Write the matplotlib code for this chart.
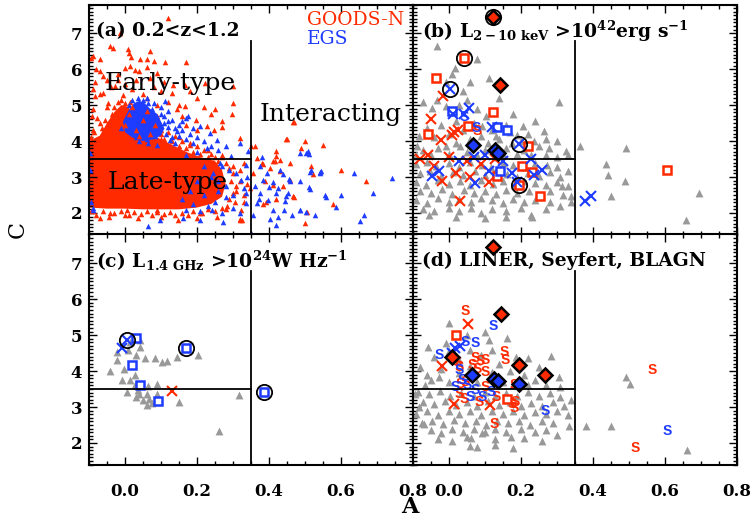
import numpy as np
import matplotlib
matplotlib.use("Agg")
import matplotlib.pyplot as plt
from matplotlib.ticker import MultipleLocator, NullFormatter

plt.rcParams['font.family'] = ['DejaVu Serif']
plt.rcParams['mathtext.fontset'] = 'dejavuserif'

RED = '#ff2a00'
BLUE = '#1e3cff'
GRAY = '#999999'

# ---------------- panel (a): full 0.2<z<1.2 sample ----------------
# outline of the saturated GOODS-N core where the markers merge
goods_core = [(-0.1, 2.15), (-0.1, 4.0), (-0.07, 4.15), (-0.05, 4.5), (-0.03, 4.8),
              (-0.01, 5.0), (0.01, 4.95), (0.03, 4.6), (0.06, 4.3), (0.09, 4.1),
              (0.13, 3.9), (0.17, 3.7), (0.21, 3.55), (0.25, 3.45), (0.27, 3.2),
              (0.28, 2.8), (0.27, 2.45), (0.24, 2.25), (0.2, 2.15), (0.15, 2.1),
              (0.1, 2.1), (0.05, 2.1), (0.0, 2.12), (-0.05, 2.12)]
# outline of the dense EGS clump above the late-type core
egs_core = [(0.0, 4.25), (-0.005, 4.55), (0.01, 4.85), (0.025, 5.05), (0.04, 5.12),
            (0.055, 5.05), (0.07, 4.9), (0.09, 4.75), (0.1, 4.55), (0.11, 4.35),
            (0.1, 4.15), (0.08, 4.05), (0.05, 4.0), (0.02, 4.1)]

goods_pts = [(0.120, 7.43), (-0.014, 7.01), (-0.042, 6.64), (-0.032, 6.59), (0.009, 6.55),
             (0.012, 6.44), (0.018, 6.34), (-0.088, 6.36), (-0.069, 6.27), (0.069, 6.50),
             (0.060, 6.27), (0.081, 6.22), (0.042, 6.27), (0.111, 6.19), (0.169, 6.19),
             (0.014, 6.08), (0.000, 6.04), (0.028, 5.99), (-0.019, 5.88), (-0.051, 5.71),
             (-0.083, 5.64), (-0.028, 5.53), (0.134, 5.57), (0.167, 5.57), (0.222, 5.62),
             (0.301, 5.54), (-0.060, 5.34), (-0.083, 5.25), (-0.005, 5.29), (-0.046, 5.06),
             (0.301, 5.06), (0.297, 4.74), (0.468, 4.54), (0.247, 4.30), (0.227, 4.41),
             (0.269, 4.55), (-0.088, 4.88), (-0.093, 4.69), (-0.079, 4.64), (0.199, 4.60),
             (0.319, 4.09), (0.144, 4.88), (0.167, 4.97), (0.088, 4.69), (0.02, 5.45),
             (0.05, 5.3), (0.07, 5.75), (0.1, 5.4), (-0.07, 5.95), (0.03, 5.7),
             (0.12, 5.1), (0.2, 5.2), (0.25, 4.9), (-0.05, 4.95), (0.06, 5.2),
             (-0.095, 6.3), (-0.08, 6.0), (-0.06, 5.8), (-0.04, 5.5), (-0.02, 5.7),
             (0.0, 5.6), (0.04, 5.95), (0.06, 6.05), (0.09, 5.9), (0.11, 5.65),
             (-0.09, 5.45), (-0.07, 5.3), (0.08, 5.5), (0.13, 5.35), (0.15, 5.0),
             (0.18, 5.4), (0.22, 4.95), (0.24, 4.75), (0.27, 4.4), (0.17, 4.45),
             (0.2, 4.3),
             (0.452, 4.07), (0.500, 3.99), (0.491, 3.81), (0.551, 3.88), (0.352, 3.85),
             (0.366, 3.53), (0.380, 3.39), (0.412, 3.44), (0.421, 3.58), (0.458, 3.39),
             (0.403, 3.25), (0.431, 3.16), (0.519, 3.30), (0.524, 3.07), (0.600, 3.20),
             (0.671, 2.88), (0.412, 2.79), (0.440, 2.74), (0.468, 2.46), (0.579, 2.26),
             (0.500, 1.72), (0.356, 3.11), (0.389, 2.88), (0.347, 2.69), (0.418, 3.45),
             (0.431, 3.48), (0.419, 3.72), (0.361, 3.85), (0.384, 3.37), (0.458, 2.93),
             (0.470, 2.44), (0.419, 2.39), (0.392, 2.30), (0.384, 2.26), (0.506, 2.02),
             (0.326, 1.81), (0.319, 1.83), (0.47, 4.52), (0.449, 4.07),
             (-0.069, 1.86), (-0.042, 2.0), (0.005, 2.09), (0.037, 1.86), (0.088, 2.09),
             (0.148, 1.81), (0.208, 2.0), (0.255, 1.90), (0.319, 1.81), (0.324, 2.09),
             (0.31, 2.6), (0.32, 2.9), (0.3, 3.3), (0.33, 3.4), (0.27, 3.6),
             (0.23, 3.75), (0.18, 3.9), (0.15, 4.1), (0.1, 4.3), (0.33, 2.3),
             (0.2, 1.85), (0.1, 1.9), (0.0, 1.95), (-0.09, 2.05), (0.28, 2.1),
             (-0.09, 4.3), (-0.07, 4.5), (0.04, 4.9), (0.09, 5.0), (0.16, 4.7),
             # ragged rim of the core
             (-0.095, 4.1), (-0.085, 4.25), (-0.075, 4.05), (-0.065, 4.35), (-0.055, 4.6),
             (-0.045, 4.45), (-0.035, 4.75), (-0.03, 4.95), (-0.02, 5.1), (-0.01, 5.15),
             (0.0, 5.05), (0.015, 5.1), (-0.06, 4.25), (-0.04, 4.3),
             (0.08, 4.3), (0.09, 4.45), (0.1, 4.2), (0.11, 4.05), (0.12, 4.25),
             (0.13, 4.0), (0.14, 4.15), (0.15, 3.85), (0.16, 4.0), (0.17, 3.8),
             (0.18, 3.95), (0.19, 3.7), (0.2, 3.85), (0.21, 3.65), (0.22, 3.75),
             (0.23, 3.55), (0.24, 3.65), (0.25, 3.55), (0.26, 3.45), (0.27, 3.55),
             (0.28, 3.4), (0.29, 3.25), (0.3, 3.1), (0.295, 2.9), (0.31, 2.75),
             (0.3, 2.55), (0.29, 2.4), (0.305, 2.3), (0.285, 2.2), (0.32, 3.2),
             (0.33, 2.5), (0.34, 2.8),
             (-0.095, 2.05), (-0.08, 1.95), (-0.06, 2.05), (-0.045, 1.9), (-0.03, 2.0),
             (-0.01, 2.05), (0.01, 1.95), (0.025, 2.02), (0.045, 1.97), (0.06, 2.05),
             (0.075, 1.95), (0.09, 2.02), (0.11, 1.96), (0.125, 2.03), (0.14, 1.93),
             (0.16, 2.0), (0.175, 1.95), (0.19, 2.05), (0.215, 2.0), (0.23, 2.1),
             (0.25, 2.05), (0.27, 2.15)]
# GOODS-N galaxies plotted over the EGS clump
goods_front = [(0.0, 4.45), (0.01, 4.75), (0.03, 4.3), (0.05, 4.6), (0.07, 4.2),
               (0.085, 4.45), (0.02, 4.95), (0.06, 4.85), (0.04, 4.15), (0.1, 4.05)]

egs_pts = [(0.503, 3.67), (0.509, 3.71), (0.542, 3.11), (0.546, 3.16), (0.636, 3.11),
           (0.744, 2.97), (0.690, 2.55), (0.602, 2.51), (0.588, 2.16), (0.664, 1.95),
           (0.653, 1.78), (0.426, 2.69), (0.454, 2.55), (0.458, 2.88), (0.486, 2.88),
           (0.444, 2.32), (0.486, 2.07), (0.505, 2.03), (0.528, 1.95), (0.426, 1.90),
           (0.412, 2.09), (0.398, 2.37), (0.375, 2.55), (0.384, 2.93), (0.394, 3.11),
           (0.361, 2.74), (0.366, 2.28), (0.421, 1.67), (0.352, 1.44), (0.375, 3.30),
           (0.486, 3.67), (0.372, 2.39), (0.556, 2.51), (0.560, 2.44), (0.544, 3.13),
           (0.514, 3.13), (0.519, 3.19), (0.512, 3.65), (0.380, 3.55), (0.431, 3.20),
           (0.440, 3.09), (0.457, 2.94), (0.514, 2.67), (0.511, 2.72), (0.447, 2.46),
           (0.420, 2.55), (0.401, 2.72), (0.412, 2.86), (0.357, 1.95), (0.403, 1.84),
           (0.442, 2.09), (0.464, 1.95), (0.488, 2.07),
           (0.065, 1.63), (0.097, 1.81), (0.162, 1.86), (0.208, 1.81), (0.273, 1.76),
           (0.241, 2.09), (0.171, 2.09), (0.301, 2.14), (0.338, 2.28), (0.338, 2.55),
           (0.324, 2.93), (0.296, 3.58), (0.282, 3.85), (0.255, 4.04), (0.236, 4.23),
           (0.208, 4.41), (0.176, 4.69), (0.111, 5.11), (0.171, 4.64), (0.144, 4.27),
           (0.125, 4.04), (0.190, 3.95), (0.227, 3.81), (0.264, 3.39), (0.245, 3.11),
           (0.282, 2.74), (0.310, 3.11), (0.338, 3.34), (0.343, 3.71), (0.319, 3.95),
           (-0.097, 3.67), (-0.097, 3.2), (-0.088, 2.09), (0.15, 4.45), (0.16, 4.3),
           (0.18, 4.2), (0.2, 4.1), (0.12, 4.55), (0.06, 5.2), (0.04, 4.0),
           (0.22, 3.3), (0.26, 2.9), (0.3, 2.5), (0.25, 2.3), (0.21, 2.05),
           (0.32, 2.0), (0.34, 3.0), (0.29, 3.2), (0.33, 2.7), (0.27, 2.0),
           # around the EGS clump
           (0.0, 4.6), (0.01, 5.0), (0.02, 5.15), (0.035, 5.2), (0.05, 5.15),
           (0.065, 5.05), (0.075, 4.9), (0.085, 4.7), (0.09, 4.55), (0.095, 4.35),
           (0.085, 4.15), (0.06, 4.05), (0.03, 4.1), (0.1, 4.75), (0.11, 4.5),
           (0.045, 4.4), (0.02, 4.45), (0.11, 4.7), (0.12, 4.4), (0.13, 4.6),
           (0.14, 4.35), (0.1, 4.95), (0.12, 4.85), (0.08, 5.05), (0.15, 4.15),
           (0.13, 4.1), (0.17, 4.05), (0.16, 4.55), (0.19, 4.35), (0.22, 4.0),
           (0.24, 3.85), (0.26, 3.75), (0.2, 3.7), (0.17, 3.6), (0.14, 3.95),
           (0.115, 4.2), (-0.01, 4.35), (0.065, 3.95), (0.09, 3.9),
           # specks inside the late-type core
           (0.16, 2.4), (0.18, 2.6), (0.2, 2.9), (0.22, 2.5), (0.24, 3.0),
           (0.26, 2.6), (0.27, 3.3), (0.23, 2.2), (0.19, 2.25), (0.28, 2.45),
           (-0.095, 2.3), (-0.09, 2.15)]

# ---------------- panel (b): X-ray AGN hosts ----------------
b_gray = [(-0.031, 6.64), (0.080, 6.27), (0.019, 6.04), (0.010, 5.88), (-0.008, 5.64),
          (0.112, 5.76), (0.052, 5.15), (0.029, 4.99), (-0.008, 4.97), (-0.031, 5.15),
          (-0.047, 4.92), (0.306, 5.09), (0.103, 4.69), (0.094, 4.41), (0.206, 4.41),
          (0.265, 4.29), (-0.082, 4.13), (-0.087, 3.85), (0.302, 3.99), (0.237, 3.99),
          (0.191, 4.18), (0.158, 4.46), (0.177, 3.95), (0.131, 4.13), (0.033, 3.85),
          (-0.008, 3.85), (0.279, 3.81), (0.325, 3.71),
          (0.365, 3.85), (0.492, 3.81), (0.436, 3.37), (0.443, 3.06), (0.489, 2.88),
          (0.450, 2.46), (0.695, 2.55), (0.658, 1.79),
          (-0.06, 4.35), (-0.04, 4.1), (-0.02, 4.45), (0.0, 4.2), (0.02, 4.55),
          (0.04, 4.3), (0.06, 4.05), (0.07, 4.5), (0.09, 4.15), (0.11, 3.95),
          (0.12, 4.3), (0.14, 4.05), (0.16, 3.8), (0.19, 3.65), (0.21, 3.75),
          (0.23, 3.6), (0.25, 3.85), (0.27, 3.6), (0.30, 3.55), (0.33, 3.6),
          (-0.09, 3.6), (-0.07, 3.75), (-0.05, 3.6), (-0.03, 3.8), (0.0, 3.65),
          (0.02, 3.95), (0.05, 3.7), (0.08, 3.6), (0.10, 3.75), (0.13, 3.55),
          (0.15, 3.65), (0.17, 4.25), (0.20, 4.0), (0.08, 4.9), (0.04, 5.4),
          (0.06, 5.65), (-0.07, 5.1), (0.14, 5.2), (0.18, 4.75), (0.24, 4.55),
          (0.22, 4.2), (0.27, 4.05),
          (-0.09, 3.35), (-0.06, 3.42), (-0.035, 3.3), (0.0, 3.38), (0.028, 3.28),
          (0.06, 3.41), (0.092, 3.33), (0.118, 3.27), (0.152, 3.40), (0.18, 3.33),
          (0.212, 3.28), (0.24, 3.39), (0.272, 3.34), (0.30, 3.27), (0.33, 3.18),
          (-0.08, 3.1), (-0.052, 3.16), (-0.02, 3.04), (0.012, 3.14), (0.04, 3.06),
          (0.072, 3.16), (0.1, 3.05), (0.13, 3.14), (0.162, 3.09), (0.19, 3.0),
          (0.22, 3.11), (0.25, 3.04), (0.28, 3.13), (0.31, 3.0),
          (-0.09, 2.86), (-0.062, 2.79), (-0.03, 2.91), (0.0, 2.8), (0.032, 2.9),
          (0.06, 2.78), (0.09, 2.91), (0.122, 2.8), (0.15, 2.89), (0.182, 2.79),
          (0.21, 2.9), (0.24, 2.84), (0.27, 2.79), (0.30, 2.86), (0.33, 2.75),
          (-0.08, 2.61), (-0.05, 2.55), (-0.018, 2.66), (0.01, 2.54), (0.042, 2.64),
          (0.07, 2.56), (0.1, 2.61), (0.132, 2.54), (0.16, 2.65), (0.19, 2.55),
          (0.222, 2.61), (0.25, 2.5), (0.28, 2.6), (0.318, 2.5),
          (-0.09, 2.36), (-0.06, 2.29), (-0.03, 2.41), (0.0, 2.3), (0.03, 2.4),
          (0.062, 2.31), (0.09, 2.41), (0.12, 2.35), (0.152, 2.29), (0.18, 2.4),
          (0.21, 2.3), (0.24, 2.36), (0.28, 2.3), (0.31, 2.2), (0.34, 2.3),
          (-0.07, 2.1), (-0.04, 2.05), (0.0, 2.15), (0.03, 2.05), (0.062, 2.15),
          (0.09, 2.0), (0.12, 2.1), (0.16, 2.05), (0.20, 2.15), (0.23, 1.95),
          (0.27, 2.1), (-0.055, 1.95), (0.02, 1.9), (0.1, 1.85), (0.16, 1.9),
          (0.232, 1.88), (0.34, 2.46), (0.316, 2.74)]
b_red_sq = [(0.0425, 6.30), (-0.036, 5.75), (0.124, 4.82), (0.055, 4.41), (-0.056, 4.19),
            (0.219, 3.85), (0.203, 3.30), (0.232, 3.15), (0.135, 3.03), (0.195, 2.78),
            (0.254, 2.48), (0.606, 3.20)]
b_blue_sq = [(0.010, 4.85), (0.135, 4.38), (0.163, 4.30), (0.143, 3.18)]
b_red_x = [(-0.016, 5.25), (-0.048, 4.62), (0.016, 4.24), (0.025, 4.30), (0.010, 4.18),
           (-0.021, 4.03), (-0.057, 3.62), (-0.018, 2.90), (0.112, 2.87), (0.032, 2.32),
           (-0.080, 3.50), (0.000, 3.55), (0.050, 3.45), (0.090, 3.35), (0.130, 3.50),
           (-0.040, 3.30), (0.020, 3.10), (0.060, 3.00)]
b_blue_x = [(0.003, 5.45), (0.056, 4.91), (0.012, 4.74), (0.043, 4.75), (0.121, 4.40),
            (0.195, 3.93), (0.229, 3.50), (0.260, 3.20), (0.237, 3.05), (0.189, 2.85),
            (0.378, 2.32), (0.394, 2.48), (-0.046, 3.03), (-0.027, 3.18), (0.074, 2.83),
            (0.112, 3.17), (0.175, 3.12), (0.030, 3.45), (0.070, 3.55), (0.100, 3.60),
            (0.150, 3.45)]
b_red_S = [(0.080, 4.27)]
b_blue_S = [(0.043, 4.68), (0.078, 4.37)]
b_red_dia = [(0.123, 7.46), (0.144, 5.55)]
b_blue_dia = [(0.069, 3.90), (0.129, 3.74), (0.138, 3.68)]
b_circ = [(0.123, 7.46), (0.0425, 6.30), (0.003, 5.45), (0.195, 3.93), (0.195, 2.78)]

# ---------------- panel (c): radio-luminous hosts ----------------
c_gray = [(-0.042, 3.99), (-0.021, 4.32), (-0.021, 4.53), (0.009, 4.58), (0.014, 4.81),
          (0.042, 4.67), (0.042, 4.86), (0.056, 4.35), (0.032, 4.44), (0.083, 4.35),
          (0.102, 4.25), (0.118, 4.28), (0.144, 4.39), (0.204, 4.44), (-0.002, 4.07),
          (-0.009, 3.74), (0.014, 3.74), (0.005, 3.42), (0.028, 3.61), (0.031, 3.28),
          (0.028, 3.88), (0.037, 3.47), (0.060, 3.37), (0.049, 3.19), (0.062, 3.05),
          (0.068, 3.23), (0.088, 3.65), (0.088, 3.37), (0.150, 3.14), (0.065, 3.58),
          (0.262, 2.33), (0.317, 3.33), (0.040, 3.35), (0.075, 3.10)]
c_blue_sq = [(0.032, 4.93), (0.169, 4.65), (0.021, 4.16), (0.042, 3.60), (0.091, 3.16),
             (0.386, 3.41)]
c_blue_x = [(0.005, 4.86), (-0.009, 4.63)]
c_red_x = [(0.130, 3.45)]
c_circ = [(0.005, 4.86), (0.169, 4.65), (0.386, 3.41)]

# ---------------- panel (d): optical AGN classes ----------------
d_gray = [(0.001, 5.34), (0.163, 4.93), (0.285, 4.42), (-0.056, 4.67), (-0.008, 4.77),
          (0.112, 4.86), (0.121, 4.58), (0.186, 4.39), (0.251, 4.12), (0.306, 3.84),
          (0.339, 3.19), (0.381, 2.46), (0.450, 2.46), (0.492, 3.84), (0.503, 3.63),
          (0.660, 1.80), (0.302, 2.21), (0.334, 2.46), (0.052, 2.17), (0.061, 2.15),
          (0.094, 2.28), (0.172, 2.17), (-0.069, 2.54), (-0.082, 3.0), (-0.092, 3.37),
          (-0.064, 3.60), (-0.027, 3.84), (-0.04, 4.4), (0.0, 4.55), (0.03, 4.3),
          (0.06, 4.6), (0.09, 4.45), (0.14, 4.2), (0.17, 4.0), (0.21, 3.9),
          (0.24, 3.75), (0.27, 3.6), (0.31, 3.55), (-0.08, 4.1), (-0.06, 3.9),
          (0.22, 4.35), (0.1, 5.1), (0.05, 5.0),
          (-0.085, 3.42), (-0.055, 3.35), (-0.025, 3.44), (0.005, 3.3), (0.035, 3.4),
          (0.07, 3.32), (0.1, 3.43), (0.13, 3.3), (0.16, 3.4), (0.19, 3.32),
          (0.22, 3.42), (0.25, 3.3), (0.28, 3.38), (0.31, 3.28),
          (-0.07, 3.15), (-0.04, 3.08), (-0.01, 3.18), (0.02, 3.05), (0.05, 3.15),
          (0.08, 3.02), (0.11, 3.16), (0.14, 3.05), (0.17, 3.14), (0.2, 3.02),
          (0.23, 3.12), (0.26, 3.04), (0.29, 3.15), (0.32, 3.02),
          (-0.09, 2.8), (-0.06, 2.88), (-0.03, 2.78), (0.0, 2.9), (0.03, 2.8),
          (0.06, 2.9), (0.09, 2.78), (0.12, 2.88), (0.15, 2.8), (0.18, 2.9),
          (0.21, 2.78), (0.24, 2.86), (0.27, 2.8), (0.3, 2.9), (0.33, 2.78),
          (-0.075, 2.55), (-0.045, 2.62), (-0.015, 2.52), (0.015, 2.64), (0.045, 2.55),
          (0.075, 2.62), (0.105, 2.5), (0.135, 2.62), (0.165, 2.55), (0.195, 2.6),
          (0.225, 2.5), (0.26, 2.6), (0.29, 2.55),
          (-0.05, 2.35), (-0.02, 2.28), (0.01, 2.38), (0.04, 2.3), (0.07, 2.4),
          (0.1, 2.3), (0.13, 2.38), (0.16, 2.3), (0.2, 2.38), (0.24, 2.3),
          (0.27, 2.35), (-0.03, 2.1), (0.01, 2.05), (0.13, 2.1), (0.21, 2.15),
          (0.26, 2.05), (0.06, 1.92), (0.13, 1.95), (0.18, 1.85), (0.08, 1.9),
          (-0.05, 3.75), (0.0, 3.7), (0.03, 3.95), (0.08, 3.7), (0.12, 3.98),
          (0.15, 3.7), (0.18, 3.6), (0.22, 3.62), (0.06, 4.15), (-0.02, 4.05)]
d_red_S = [(0.045, 5.68), (0.154, 4.53), (0.156, 4.32), (0.566, 4.02), (0.517, 1.87),
           (0.126, 2.54), (0.177, 3.09), (0.181, 2.96), (0.186, 3.14), (0.084, 3.14),
           (0.075, 4.35), (0.089, 4.28), (0.103, 4.32), (0.066, 4.16), (0.080, 4.07),
           (0.103, 3.98), (0.033, 3.65), (0.047, 3.70), (0.029, 3.37), (0.043, 3.23),
           (0.103, 3.56), (0.024, 4.26), (0.029, 4.12), (0.131, 3.28), (0.181, 3.60)]
d_blue_S = [(0.124, 5.25), (0.047, 4.81), (0.073, 4.79), (-0.027, 4.44), (0.269, 2.89),
            (0.607, 2.33), (0.029, 4.02), (0.038, 3.74), (0.052, 3.60), (0.075, 3.47),
            (0.094, 3.28), (0.117, 3.42), (0.061, 3.28), (0.019, 3.56)]
d_red_x = [(0.054, 5.32), (-0.018, 4.13), (0.015, 3.07), (0.114, 3.05)]
d_blue_x = [(0.019, 4.63), (0.031, 4.69), (0.010, 4.49)]
d_red_sq = [(0.021, 5.00), (0.163, 3.22)]
d_red_dia = [(0.124, 7.46), (0.146, 5.58), (0.195, 4.16), (0.268, 3.90), (0.010, 4.39)]
d_blue_dia = [(0.066, 3.88), (0.126, 3.79), (0.137, 3.72), (0.195, 3.65)]

panel_titles = [r'(a) 0.2<z<1.2',
                r'(b) L$_{\mathbf{2-10\ keV}}$ >10$^{\mathbf{42}}$erg s$^{\mathbf{-1}}$',
                r'(c) L$_{\mathbf{1.4\ GHz}}$ >10$^{\mathbf{24}}$W Hz$^{\mathbf{-1}}$',
                r'(d) LINER, Seyfert, BLAGN']
x_ticks = [0.0, 0.2, 0.4, 0.6, 0.8]
y_ticks = [2, 3, 4, 5, 6, 7]


def xy(pts):
    a = np.asarray(pts, dtype=float)
    return a[:, 0], a[:, 1]


def tri(ax, pts, color, s, z=2):
    x, y = xy(pts)
    ax.scatter(x, y, marker='^', s=s, c=color, linewidths=0, zorder=z)


def squares(ax, pts, color):
    x, y = xy(pts)
    ax.plot(x, y, 's', ms=6, mfc='white', mec=color, mew=1.8, ls='none', zorder=4)


def crosses(ax, pts, color):
    x, y = xy(pts)
    ax.plot(x, y, 'x', ms=6.5, mec=color, mew=1.5, ls='none', zorder=4)


def letters(ax, pts, color):
    x, y = xy(pts)
    for xi, yi in zip(x, y):
        ax.text(xi, yi, 'S', color=color, fontsize=10, fontweight='bold',
                family='Liberation Sans', ha='center', va='center', zorder=4)


def diamonds(ax, pts, color):
    x, y = xy(pts)
    ax.plot(x, y, 'D', ms=7, mfc=color, mec='black', mew=1.8, ls='none', zorder=5,
            clip_on=False)


def circles(ax, pts):
    x, y = xy(pts)
    ax.plot(x, y, 'o', ms=11, mfc='none', mec='black', mew=1.3, ls='none', zorder=6,
            clip_on=False)


fig = plt.figure(figsize=(7.54, 5.19), dpi=100)
W, H = 754.0, 519.0
xl, xm, xr = 89 / W, 412.5 / W, 737 / W
yt, ym, yb = 1 - 4.5 / H, 1 - 234.5 / H, 1 - 464.5 / H
ax_a = fig.add_axes([xl, ym, xm - xl, yt - ym])
ax_b = fig.add_axes([xm, ym, xr - xm, yt - ym])
ax_c = fig.add_axes([xl, yb, xm - xl, ym - yb])
ax_d = fig.add_axes([xm, yb, xr - xm, ym - yb])
axes = [ax_a, ax_b, ax_c, ax_d]

for i, ax in enumerate(axes):
    ax.set_xlim(-0.1, 0.8)
    ax.set_ylim(1.4, 7.8)
    ax.set_xticks(x_ticks)
    ax.set_yticks(y_ticks)
    ax.xaxis.set_minor_locator(MultipleLocator(0.05))
    ax.yaxis.set_minor_locator(MultipleLocator(0.1))
    ax.tick_params(which='both', direction='in', top=True, right=True, width=1.0,
                   labelsize=12, pad=5)
    ax.tick_params(which='major', length=6)
    ax.tick_params(which='minor', length=3)
    ax.tick_params(axis='x', pad=13)
    for sp in ax.spines.values():
        sp.set_linewidth(1.5)
        sp.set_zorder(10)
    if i in (0, 1):
        ax.xaxis.set_major_formatter(NullFormatter())
    else:
        ax.set_xticklabels(['%.1f' % t for t in x_ticks], fontweight='bold')
    if i in (1, 3):
        ax.yaxis.set_major_formatter(NullFormatter())
    else:
        ax.set_yticklabels([str(t) for t in y_ticks], fontweight='bold')
    # morphology boundaries
    ax.plot([-0.1, 0.35], [3.5, 3.5], color='black', lw=1.3, zorder=7)
    ax.plot([0.35, 0.35], [1.4, 6.78], color='black', lw=1.3, zorder=7)
    ax.text(0.022 if i in (0, 2) else 0.028, 0.885, panel_titles[i], transform=ax.transAxes,
            fontsize=13.5, fontweight='bold', ha='left', va='center', zorder=8)

# (a)
ax_a.fill(*xy(goods_core), color=RED, lw=0, zorder=1)
tri(ax_a, goods_pts, RED, 16, z=2)
ax_a.fill(*xy(egs_core), color=BLUE, lw=0, zorder=2.5)
tri(ax_a, egs_pts, BLUE, 16, z=3)
tri(ax_a, goods_front, RED, 16, z=3.5)
ax_a.text(0.506, 7.38, 'GOODS-N', color=RED, fontsize=13.5, ha='left', va='center')
ax_a.text(0.506, 6.83, 'EGS', color=BLUE, fontsize=13.5, ha='left', va='center')
ax_a.text(0.125, 5.6, 'Early-type', fontsize=18, ha='center', va='center', zorder=8)
ax_a.text(0.12, 2.84, 'Late-type', fontsize=18, ha='center', va='center', zorder=8)
ax_a.text(0.572, 4.74, 'Interacting', fontsize=18, ha='center', va='center', zorder=8)

# (b)
tri(ax_b, b_gray, GRAY, 32)
squares(ax_b, b_red_sq, RED)
squares(ax_b, b_blue_sq, BLUE)
crosses(ax_b, b_red_x, RED)
crosses(ax_b, b_blue_x, BLUE)
letters(ax_b, b_red_S, RED)
letters(ax_b, b_blue_S, BLUE)
diamonds(ax_b, b_red_dia, RED)
diamonds(ax_b, b_blue_dia, BLUE)
circles(ax_b, b_circ)

# (c)
tri(ax_c, c_gray, GRAY, 32)
squares(ax_c, c_blue_sq, BLUE)
crosses(ax_c, c_blue_x, BLUE)
crosses(ax_c, c_red_x, RED)
circles(ax_c, c_circ)

# (d)
tri(ax_d, d_gray, GRAY, 32)
letters(ax_d, d_red_S, RED)
letters(ax_d, d_blue_S, BLUE)
crosses(ax_d, d_red_x, RED)
crosses(ax_d, d_blue_x, BLUE)
squares(ax_d, d_red_sq, RED)
diamonds(ax_d, d_red_dia, RED)
diamonds(ax_d, d_blue_dia, BLUE)

fig.text(18 / W, 1 - 230 / H, 'C', rotation=90, fontsize=16, ha='center', va='center')
fig.text(410 / W, 1 - 507 / H, 'A', fontsize=16, fontweight='bold', ha='center', va='center')

fig.savefig('out.png', dpi=100)
